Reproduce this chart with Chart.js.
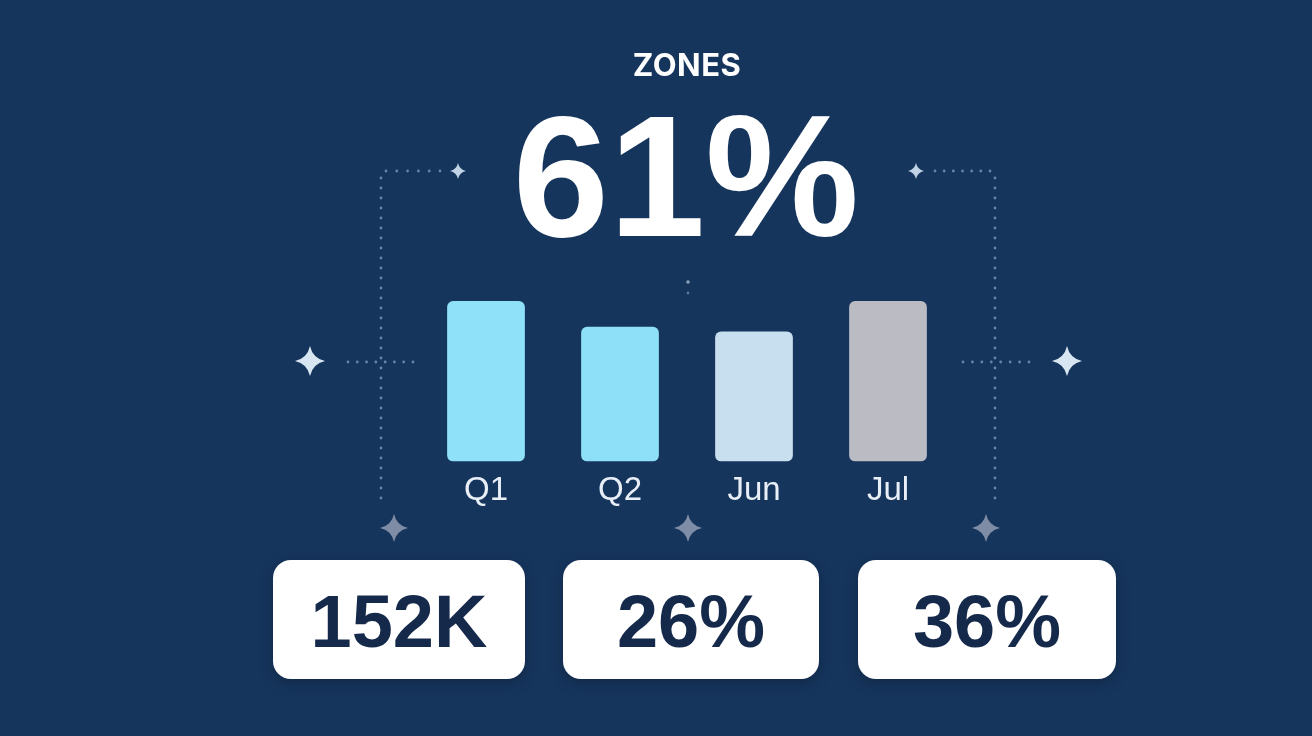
<!DOCTYPE html>
<html lang="en">
<head>
<meta charset="utf-8">
<title>Zones</title>
<script src="https://cdn.jsdelivr.net/npm/chart.js@4.4.0/dist/chart.umd.min.js"></script>
<style>
  body { margin: 0; width: 1312px; height: 736px; background: #16355d; overflow: hidden; font-family: "Liberation Sans", Arial, sans-serif; }
  #wrap { position: absolute; left: 0; top: 0; width: 1312px; height: 736px; }
  .title { position: absolute; width: 1312px; text-align: center; color: #fff; font-weight: 700; line-height: 1; }
  #zones { top: 49px; left: 31px; font-family: Inter, "Liberation Sans", sans-serif; font-size: 31px; letter-spacing: 0.5px; }
  #big { top: 90px; left: 30px; font-size: 173px; }
  .card { position: absolute; top: 560px; height: 119px; background: #fff; border-radius: 18px;
          display: flex; align-items: center; justify-content: center; padding-top: 4px; box-sizing: border-box;
          color: #15294b; font-weight: 700; font-size: 74px; line-height: 1; box-shadow: 0 4px 14px rgba(0,0,0,0.25); }
</style>
</head>
<body>
<div id="wrap"><canvas id="myChart" width="1312" height="736"></canvas></div>
<div class="title" id="zones">ZONES</div>
<div class="title" id="big">61%</div>
<div class="card" style="left:273px;width:252px;">152K</div>
<div class="card" style="left:563px;width:256px;">26%</div>
<div class="card" style="left:858px;width:258px;">36%</div>

<script>
// chart data
const categories = ['Q1', 'Q2', 'Jun', 'Jul'];
const values = [100, 84, 81, 100];
const barColors = ['#8fe1fa', '#8ee0f8', '#c8dff0', '#bbbbc3'];

// dotted guides + sparkles behind the bars
function dots(ctx, x1, y1, x2, y2) {
  const len = Math.hypot(x2 - x1, y2 - y1);
  const n = Math.round(len / 10);
  for (let i = 0; i <= n; i++) {
    const t = n ? i / n : 0;
    ctx.beginPath();
    ctx.arc(x1 + (x2 - x1) * t, y1 + (y2 - y1) * t, 1.4, 0, Math.PI * 2);
    ctx.fill();
  }
}
function sparkle(ctx, x, y, r, color) {
  const k = r * 0.18;
  ctx.fillStyle = color;
  ctx.beginPath();
  ctx.moveTo(x, y - r);
  ctx.quadraticCurveTo(x + k, y - k, x + r, y);
  ctx.quadraticCurveTo(x + k, y + k, x, y + r);
  ctx.quadraticCurveTo(x - k, y + k, x - r, y);
  ctx.quadraticCurveTo(x - k, y - k, x, y - r);
  ctx.fill();
}

const decor = {
  id: 'decor',
  beforeDatasetsDraw(chart) {
    const ctx = chart.ctx;
    ctx.save();
    ctx.fillStyle = '#6a84a4';
    dots(ctx, 386, 171, 440, 171);
    dots(ctx, 381, 178, 381, 498);
    dots(ctx, 348, 362, 413, 362);
    dots(ctx, 935, 171, 990, 171);
    dots(ctx, 995, 178, 995, 498);
    dots(ctx, 963, 362, 1029, 362);
    ctx.fillStyle = '#8aa0bb';
    ctx.beginPath(); ctx.arc(688, 282, 1.8, 0, Math.PI * 2); ctx.fill();
    ctx.fillStyle = '#5f7899';
    ctx.beginPath(); ctx.arc(688, 293, 1.4, 0, Math.PI * 2); ctx.fill();
    sparkle(ctx, 458, 171, 8, '#c2d3e6');
    sparkle(ctx, 916, 171, 8, '#c2d3e6');
    sparkle(ctx, 310, 361, 15, '#d8e6f2');
    sparkle(ctx, 1067, 361, 15, '#d8e6f2');
    sparkle(ctx, 394, 528, 14, '#7e8da5');
    sparkle(ctx, 688, 528, 14, '#7e8da5');
    sparkle(ctx, 986, 528, 14, '#7e8da5');
    ctx.restore();
  }
};

new Chart(document.getElementById('myChart'), {
  type: 'bar',
  data: {
    labels: categories,
    datasets: [{
      data: values,
      backgroundColor: barColors,
      borderRadius: 6,
      borderSkipped: false,
      barPercentage: 0.58,
      categoryPercentage: 1
    }]
  },
  options: {
    responsive: false,
    animation: false,
    devicePixelRatio: 1,
    layout: { padding: { left: 419, right: 357, top: 301, bottom: 215 } },
    plugins: { legend: { display: false }, tooltip: { enabled: false } },
    scales: {
      x: {
        grid: { display: false, drawTicks: false },
        border: { display: false },
        ticks: { color: '#e8eff7', font: { family: 'Liberation Sans', size: 33 }, padding: 10 }
      },
      y: { display: false, min: 0, max: 100 }
    }
  },
  plugins: [decor]
});
</script>
</body>
</html>
